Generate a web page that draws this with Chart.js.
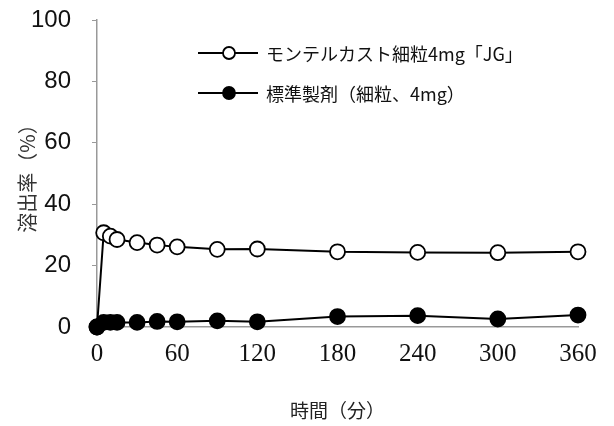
<!DOCTYPE html>
<html><head><meta charset="utf-8">
<script src="https://cdn.jsdelivr.net/npm/chart.js@4/dist/chart.umd.min.js"></script>
<style>html,body{margin:0;padding:0;background:#fff}#wrap{width:614px;height:426px}</style>
</head><body><div id="wrap"><canvas id="c" width="614" height="426"></canvas></div>
<script>
const times = [0, 5, 10, 15, 30, 45, 60, 90, 120, 180, 240, 300, 360];
const testValues = [0, 30.7, 29.6, 28.5, 27.5, 26.7, 26.1, 25.3, 25.4, 24.5, 24.3, 24.2, 24.5];
const refValues = [0, 1.5, 1.5, 1.5, 1.5, 1.8, 1.7, 2.0, 1.7, 3.4, 3.7, 2.6, 3.9];
const seriesLabels = ['モンテルカスト細粒4mg「JG」', '標準製剤（細粒、4mg）'];
const xTitle = '時間（分）';
const yTitle = '溶出率（%）';

const legendPlugin = {
  id: 'innerLegend',
  afterDraw(chart) {
    const ctx = chart.ctx;
    const rows = [53, 93];
    chart.data.datasets.forEach((ds, i) => {
      const y = rows[i];
      ctx.save();
      ctx.strokeStyle = '#000'; ctx.lineWidth = 2;
      ctx.beginPath(); ctx.moveTo(198, y); ctx.lineTo(258, y); ctx.stroke();
      ctx.beginPath(); ctx.arc(229, y, 6, 0, Math.PI * 2);
      ctx.fillStyle = ds.pointBackgroundColor; ctx.fill();
      ctx.lineWidth = 1.8; ctx.stroke();
      ctx.fillStyle = '#111';
      ctx.font = '18px "Noto Sans CJK JP"';
      ctx.textBaseline = 'middle';
      ctx.fillText(ds.label, 266, y + 1);
      ctx.restore();
    });
  }
};

new Chart(document.getElementById('c'), {
  type: 'line',
  data: {
    datasets: [
      { label: seriesLabels[0], data: times.map((t, i) => ({x: t, y: testValues[i]})), order: 2,
        borderColor: '#000', borderWidth: 2, pointRadius: 7.5, pointBorderWidth: 1.8,
        pointBackgroundColor: '#fff', pointBorderColor: '#000', tension: 0, clip: false },
      { label: seriesLabels[1], data: times.map((t, i) => ({x: t, y: refValues[i]})), order: 1,
        borderColor: '#000', borderWidth: 2, pointRadius: 7.5, pointBorderWidth: 1.8,
        pointBackgroundColor: '#000', pointBorderColor: '#000', tension: 0, clip: false }
    ]
  },
  options: {
    responsive: false, animation: false,
    layout: { padding: { top: 20, right: 36, left: 0, bottom: 0 } },
    plugins: { legend: { display: false }, tooltip: { enabled: false } },
    scales: {
      x: {
        type: 'linear', min: 0, max: 360,
        afterFit(s) { s.height = 99; s.paddingLeft = 0; s.paddingRight = 0; s.paddingTop = 0; s.paddingBottom = 0; },
        ticks: { stepSize: 60, color: '#111', padding: 12,
          font: { family: '"Liberation Sans Narrow"', size: 25 } },
        grid: { drawOnChartArea: false, drawTicks: false },
        border: { color: '#999', width: 1.5 },
        title: { display: true, text: xTitle, color: '#222',
          font: { family: '"Noto Sans CJK JP"', size: 19 }, padding: { top: 0, bottom: 4 } }
      },
      y: {
        min: 0, max: 100,
        afterFit(s) { s.width = 97; s.paddingTop = 0; s.paddingBottom = 0; s.paddingLeft = 0; s.paddingRight = 0; },
        ticks: { stepSize: 20, color: '#111', padding: 21,
          font: { family: '"Liberation Sans"', size: 24 } },
        grid: { drawOnChartArea: false, drawTicks: true, tickLength: 5, color: '#999' },
        border: { color: '#999', width: 1.5 },
        title: { display: true, text: yTitle, color: '#333',
          font: { family: '"Noto Sans CJK JP"', size: 20 }, padding: { top: 15, bottom: 0 } }
      }
    }
  },
  plugins: [legendPlugin]
});
</script>
</body></html>
